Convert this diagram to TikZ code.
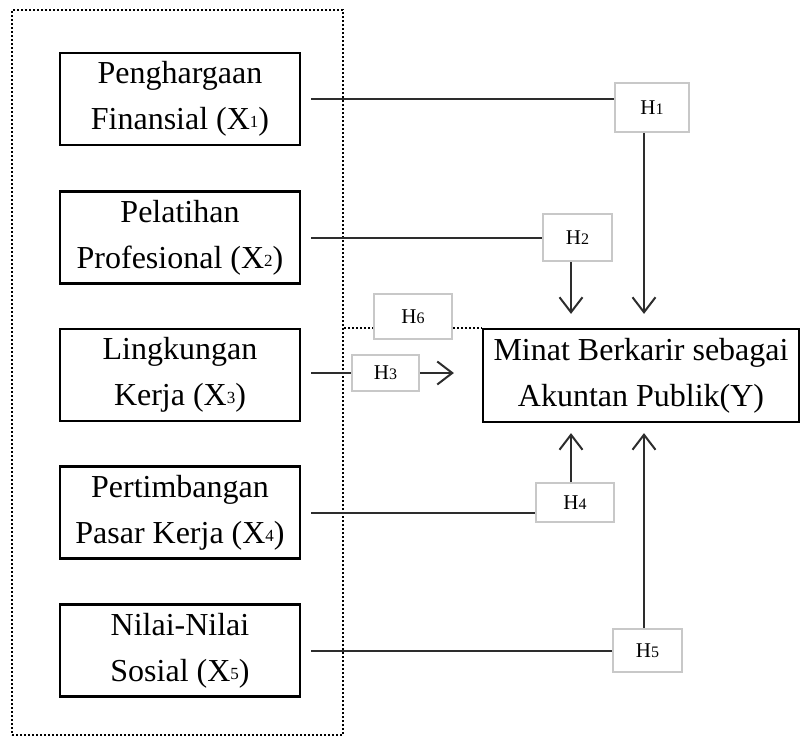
\documentclass[tikz,border=0pt]{standalone}
\usepackage{fontspec}
\setmainfont{Liberation Serif}
\usetikzlibrary{arrows.meta}

\definecolor{hgray}{RGB}{200,200,200}
\definecolor{linegray}{RGB}{45,45,45}

% small index digit used in the variable names
\newcommand{\vnum}[1]{\raisebox{2pt}{\fontsize{17}{17}\selectfont #1}}
\newcommand{\hnum}[1]{{\fontsize{16}{16}\selectfont #1}}

\begin{document}
\begin{tikzpicture}[x=1pt, y=-1pt,
  varbox/.style={draw, line width=2.2pt, minimum width=240pt, minimum height=92pt,
    inner sep=0pt, align=center, font=\fontsize{32}{46}\selectfont},
  hypbox/.style={draw=hgray, line width=2pt, fill=white, inner sep=0pt,
    font=\fontsize{21}{21}\selectfont},
  link/.style={draw=linegray, line width=2pt},
  arrowlink/.style={link, -{Straight Barb[length=15pt, width=23pt]}},
  grouping/.style={draw, dotted, line width=2pt}]

\useasboundingbox (0,0) rectangle (801,737);

% Dotted frame round the independent variables
\node[grouping, minimum width=331pt, minimum height=725pt, inner sep=0pt] (grp) at (177.5,372.5) {};

% Independent variables
\node[varbox] (x1) at (180,99) {Penghargaan\\Finansial (X\vnum{1})};
\node[varbox] (x2) at (180,237.5) {Pelatihan\\Profesional (X\vnum{2})};
\node[varbox] (x3) at (180,375) {Lingkungan\\Kerja (X\vnum{3})};
\node[varbox] (x4) at (180,512.5) {Pertimbangan\\Pasar Kerja (X\vnum{4})};
\node[varbox] (x5) at (180,650.5) {Nilai-Nilai\\Sosial (X\vnum{5})};

% Dependent variable
\node[varbox, minimum width=316pt, minimum height=93pt] (y) at (641,375.5) {Minat Berkarir sebagai\\Akuntan Publik(Y)};

% Columns of the vertical arrows
\coordinate (c1) at (644,0);
\coordinate (c2) at (571,0);

% Hypotheses
\node[hypbox, minimum width=74pt, minimum height=49pt] (h1) at (652,107.5) {H\hnum{1}};
\node[hypbox, minimum width=69pt, minimum height=47pt] (h2) at (577.5,237.5) {H\hnum{2}};
\node[hypbox, minimum width=67pt, minimum height=36pt] (h3) at (385.5,373) {H\hnum{3}};
\node[hypbox, minimum width=78pt, minimum height=39pt] (h4) at (575,502.5) {H\hnum{4}};
\node[hypbox, minimum width=69pt, minimum height=43pt] (h5) at (647.5,650.5) {H\hnum{5}};
\node[hypbox, minimum width=78pt, minimum height=45pt] (h6) at (413,316.5) {H\hnum{6}};

% H1 and H2 from above
\draw[link, shorten <=10pt] (x1.east) -- (x1.east -| h1.west);
\draw[arrowlink, shorten >=14pt] (h1.south -| c1) -- (y.north -| c1);
\draw[link, shorten <=10pt] (x2.east) -- (x2.east -| h2.west);
\draw[arrowlink, shorten >=14pt] (h2.south -| c2) -- (y.north -| c2);

% H3 from the left
\draw[link, shorten <=10pt] (x3.east |- h3) -- (h3.west);
\draw[arrowlink, shorten >=28pt] (h3.east) -- (h3 -| y.west);

% H4 and H5 from below
\draw[link, shorten <=10pt] (x4.east) -- (x4.east -| h4.west);
\draw[arrowlink, shorten >=10pt] (h4.north -| c2) -- (y.south -| c2);
\draw[link, shorten <=10pt] (x5.east) -- (x5.east -| h5.west);
\draw[arrowlink, shorten >=10pt] (h5.north -| c1) -- (y.south -| c1);

% H6: simultaneous effect
\draw[grouping] (grp.east |- y.north) -- (h6.west |- y.north);
\draw[grouping] (h6.east |- y.north) -- (y.north west);

\end{tikzpicture}
\end{document}
